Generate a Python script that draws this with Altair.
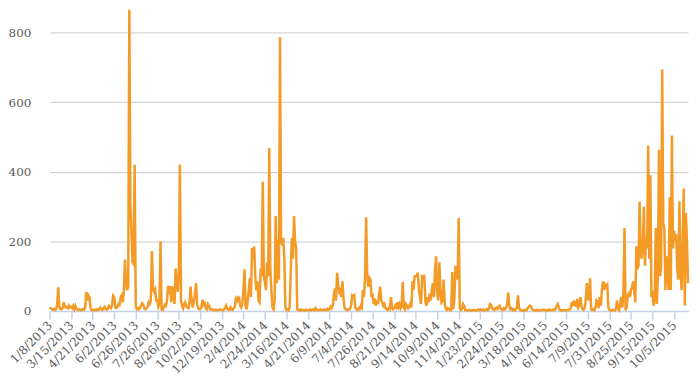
import altair as alt
import pandas as pd

# Category tick labels (every 20th category on the x axis)
tick_labels = ["1/8/2013", "3/15/2013", "4/21/2013", "6/2/2013", "6/26/2013",
               "7/26/2013", "8/26/2013", "10/2/2013", "12/19/2013", "2/4/2014",
               "2/24/2014", "3/16/2014", "4/21/2014", "6/9/2014", "7/4/2014",
               "7/26/2014", "8/21/2014", "9/14/2014", "10/9/2014", "11/4/2014",
               "1/23/2015", "2/24/2015", "3/18/2015", "4/18/2015", "6/14/2015",
               "7/9/2015", "7/31/2015", "8/25/2015", "9/15/2015", "10/5/2015"]

# Series values, one list per labelled block of 20 categories
p00 = [10, 8, 5, 4, 6, 3, 5, 20, 68, 12, 6, 5, 8, 25, 14, 10, 12, 8, 15, 10]
p01 = [12, 8, 15, 5, 14, 6, 4, 3, 5, 2, 3, 6, 4, 10, 55, 30, 45, 40, 8, 3]
p02 = [3, 2, 4, 2, 5, 3, 6, 10, 4, 3, 8, 12, 5, 4, 6, 14, 10, 8, 18, 44]
p03 = [40, 10, 8, 12, 20, 18, 40, 45, 25, 60, 148, 80, 60, 70, 865, 310, 230, 140, 135, 420]
p04 = [15, 5, 8, 5, 10, 15, 22, 18, 6, 5, 8, 12, 25, 20, 30, 172, 60, 55, 62, 30]
p05 = [30, 12, 20, 200, 5, 3, 10, 18, 15, 30, 72, 50, 72, 25, 70, 60, 20, 122, 80, 55]
p06 = [110, 421, 30, 15, 8, 20, 25, 12, 10, 8, 30, 70, 25, 10, 30, 45, 80, 20, 8, 5]
p07 = [5, 10, 32, 18, 22, 8, 5, 20, 15, 6, 4, 5, 3, 2, 4, 3, 2, 3, 5, 4]
p08 = [3, 2, 5, 8, 15, 6, 4, 3, 10, 5, 3, 8, 12, 35, 30, 40, 38, 15, 10, 20]
p09 = [60, 120, 15, 5, 30, 60, 95, 40, 181, 150, 186, 100, 60, 85, 30, 25, 122, 100, 371, 100]
p10 = [80, 60, 140, 100, 468, 120, 60, 10, 5, 30, 273, 80, 205, 90, 787, 200, 190, 210, 150, 10]
p11 = [3, 5, 2, 10, 120, 210, 150, 273, 200, 180, 5, 3, 2, 4, 2, 3, 2, 1, 3, 2]
p12 = [3, 2, 4, 2, 3, 5, 2, 8, 4, 2, 3, 2, 5, 3, 2, 4, 3, 2, 6, 3]
p13 = [5, 12, 8, 15, 45, 65, 30, 110, 75, 55, 60, 40, 85, 35, 8, 5, 3, 5, 4, 6]
p14 = [15, 45, 42, 45, 10, 5, 3, 8, 5, 15, 10, 60, 40, 100, 269, 100, 70, 95, 90, 40]
p15 = [50, 20, 35, 15, 30, 20, 45, 70, 30, 25, 15, 20, 8, 5, 3, 8, 5, 40, 10, 5]
p16 = [8, 15, 10, 25, 12, 20, 8, 15, 83, 10, 5, 20, 15, 8, 12, 20, 10, 85, 60, 100]
p17 = [100, 100, 110, 60, 40, 20, 100, 98, 100, 30, 15, 40, 25, 50, 30, 60, 80, 40, 120, 157]
p18 = [50, 30, 140, 60, 25, 30, 90, 20, 5, 3, 8, 5, 2, 3, 112, 5, 40, 130, 110, 90]
p19 = [267, 8, 2, 5, 20, 15, 3, 2, 1, 2, 3, 2, 1, 2, 3, 2, 1, 2, 4, 2]
p20 = [5, 3, 2, 4, 2, 3, 5, 2, 8, 20, 18, 8, 5, 3, 8, 10, 6, 12, 15, 5]
p21 = [5, 3, 8, 5, 10, 20, 53, 15, 5, 8, 3, 5, 2, 6, 8, 45, 10, 3, 2, 1]
p22 = [2, 1, 3, 2, 8, 12, 15, 14, 6, 3, 2, 1, 2, 3, 1, 2, 3, 2, 4, 3]
p23 = [2, 3, 1, 2, 4, 2, 3, 2, 5, 3, 8, 15, 20, 10, 3, 2, 1, 2, 3, 2]
p24 = [2, 3, 2, 5, 8, 25, 15, 30, 20, 12, 35, 10, 15, 40, 15, 5, 3, 10, 30, 80]
p25 = [40, 30, 94, 5, 3, 5, 2, 10, 30, 25, 8, 40, 15, 60, 85, 60, 75, 70, 75, 10]
p26 = [3, 2, 1, 3, 2, 1, 5, 30, 8, 3, 20, 40, 10, 60, 238, 2, 10, 45, 50, 40]
p27 = [60, 70, 85, 60, 25, 186, 120, 130, 314, 170, 150, 190, 300, 130, 210, 180, 475, 150, 390, 40]
p28 = [47, 15, 40, 238, 20, 100, 463, 100, 130, 694, 250, 238, 60, 157, 120, 60, 327, 60, 504, 180]
p29 = [230, 200, 220, 120, 90, 315, 120, 60, 190, 352, 15, 282, 200, 80]

blocks = [p00, p01, p02, p03, p04, p05, p06, p07, p08, p09,
          p10, p11, p12, p13, p14, p15, p16, p17, p18, p19,
          p20, p21, p22, p23, p24, p25, p26, p27, p28, p29]
values = [v for b in blocks for v in b]
df = pd.DataFrame({"idx": list(range(len(values))), "value": values})

label_array = "[" + ",".join("'" + d + "'" for d in tick_labels) + "]"
FONT = "DejaVu Serif"
TXT = "#595959"

chart = alt.Chart(df).mark_line(color="#F39B26", strokeWidth=2.5).encode(
    x=alt.X("idx:Q",
            scale=alt.Scale(domain=[0, len(values) - 1], nice=False, zero=False),
            axis=alt.Axis(values=[20 * i for i in range(len(tick_labels))],
                          labelExpr=label_array + "[round(datum.value/20)]",
                          labelAngle=-45, labelAlign="right", labelBaseline="middle",
                          labelOverlap=False, labelFlush=False, grid=False, title=None,
                          domainColor="#C3D2E6", domainWidth=1.5,
                          tickColor="#C3D2E6", tickWidth=1.5, tickSize=8,
                          labelPadding=4, labelFont=FONT, labelFontSize=12,
                          labelColor=TXT)),
    y=alt.Y("value:Q",
            scale=alt.Scale(domain=[0, 860], nice=False),
            axis=alt.Axis(values=[0, 200, 400, 600, 800], domain=False, ticks=False,
                          gridColor="#C8C8C8", gridWidth=1, labelPadding=19,
                          labelFont=FONT, labelFontSize=12, labelColor=TXT,
                          title=None)),
).properties(
    width=644, height=302,
    padding={"left": 42, "top": 2, "right": 4, "bottom": 70},
    autosize=alt.AutoSizeParams(type="none"),
).configure_view(stroke=None)

chart.save("out.html", embed_options={"renderer": "svg", "actions": False})
